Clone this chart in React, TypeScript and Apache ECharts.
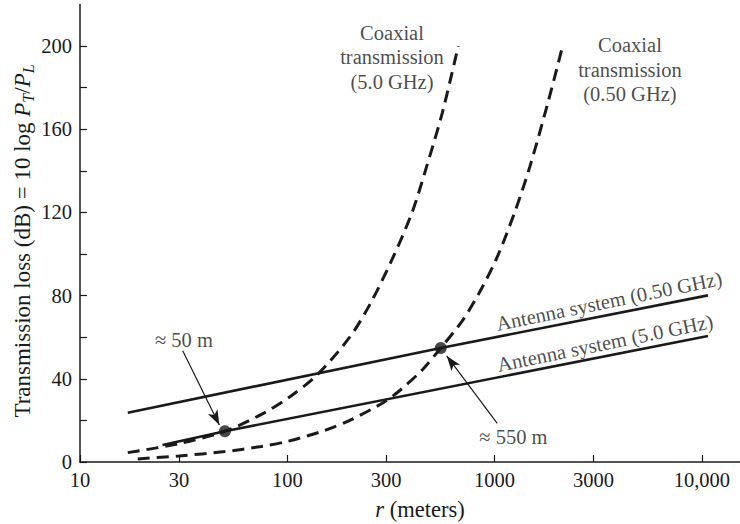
import React, { useEffect, useRef } from 'react';
import * as echarts from 'echarts';

// ---- data (r in meters, loss in dB) ----
const xTickValues = [10, 30, 100, 300, 1000, 3000, 10000];
const xTickLabels = ['10', '30', '100', '300', '1000', '3000', '10,000'];
const yTickValues = [0, 20, 40, 60, 80, 100, 120, 140, 160, 180, 200];
const yLabelValues = [0, 40, 80, 120, 160, 200];

const antenna05R = [17, 550, 10700];
const antenna05L = [23.7, 54.8, 80.1];

const antenna5R = [25, 50, 10700];
const antenna5L = [8.2, 14.8, 60.6];

const coax5R = [17, 30, 50, 77, 103, 139, 200, 251, 319, 400, 470, 560, 668];
const coax5L = [4.5, 8.8, 14.8, 23.5, 31.4, 41.8, 60, 76, 97, 120, 142, 168, 200];

const coax05R = [19, 30, 50, 75, 99, 150, 200, 290, 350, 450, 550, 700, 850, 1024, 1250, 1480, 1800, 2130];
const coax05L = [1.5, 2.9, 5, 7.5, 9.8, 15, 20, 28.5, 34.5, 44.5, 54.8, 68, 82, 98, 120, 142, 172, 200];

const crossR = [50, 550];
const crossL = [14.8, 54.8];

// arrows: [tailR, tailL, tipR, tipL]
const arrows = [
  [31.3, 53.5, 47, 17.8],
  [1030, 18.6, 588, 51],
];

// annotation texts at data positions: [r, L, text, rotation]
const notes: [number, number, string, number][] = [
  [320, 194.5, 'Coaxial\ntransmission\n(5.0 GHz)', 0],
  [4500, 188.5, 'Coaxial\ntransmission\n(0.50 GHz)', 0],
  [3565, 77.4, 'Antenna system (0.50 GHz)', 11.6],
  [3412, 57.2, 'Antenna system (5.0 GHz)', 11.6],
  [31.7, 58.7, '\u2248 50 m', 0],
  [1233, 11.8, '\u2248 550 m', 0],
];

const FONT = '"Liberation Serif", "Times New Roman", serif';
const INK = '#1a1a1a';

const lg = (v: number) => Math.log10(v);
const pts = (rs: number[], ls: number[]) => rs.map((r, i) => [lg(r), ls[i]]);

export default function App() {
  const ref = useRef<HTMLDivElement>(null);
  useEffect(() => {
    if (!ref.current) return;
    const chart = echarts.init(ref.current, null, { renderer: 'svg' });
    const xTicks = xTickValues.map(lg);
    const solid = { color: INK, width: 2.6, type: 'solid' as const };
    const dashed = { color: INK, width: 3, type: [12, 7] as any };
    chart.setOption({
      animation: false,
      backgroundColor: '#ffffff',
      grid: { left: 80, top: 4.4, width: 660, height: 457.6, containLabel: false },
      xAxis: {
        type: 'value',
        min: 1,
        max: 4.184,
        axisLine: { show: true, lineStyle: { color: INK, width: 1.5 } },
        axisTick: { show: true, inside: true, length: 7, customValues: xTicks, lineStyle: { color: INK, width: 1.2 } },
        axisLabel: {
          show: true,
          customValues: xTicks,
          margin: 7,
          color: INK,
          fontFamily: FONT,
          fontSize: 20.5,
          formatter: (v: number) => {
            let best = 0;
            xTicks.forEach((t, i) => {
              if (Math.abs(t - v) < Math.abs(xTicks[best] - v)) best = i;
            });
            return xTickLabels[best];
          },
        },
        splitLine: { show: false },
      },
      yAxis: {
        type: 'value',
        min: 0,
        max: 220,
        axisLine: { show: true, lineStyle: { color: INK, width: 1.5 } },
        axisTick: { show: true, inside: true, length: 7, customValues: yTickValues, lineStyle: { color: INK, width: 1.2 } },
        axisLabel: {
          show: true,
          customValues: yLabelValues,
          margin: 8,
          color: INK,
          fontFamily: FONT,
          fontSize: 20.5,
        },
        splitLine: { show: false },
      },
      graphic: [
        {
          type: 'text',
          x: 22.5,
          y: 241,
          rotation: Math.PI / 2,
          style: {
            text: '{n|Transmission loss (dB) = 10 log }{i|P}{s|T}{n|/}{i|P}{s|L}',
            align: 'center',
            verticalAlign: 'middle',
            fill: INK,
            rich: {
              n: { fontFamily: FONT, fontSize: 23, lineHeight: 28, fill: INK },
              i: { fontFamily: FONT, fontSize: 23, fontStyle: 'italic', lineHeight: 28, fill: INK },
              s: { fontFamily: FONT, fontSize: 16, fontStyle: 'italic', lineHeight: 15, verticalAlign: 'bottom', fill: INK },
            },
          },
        },
        {
          type: 'text',
          x: 420,
          y: 509,
          style: {
            text: '{i|r}{n| (meters)}',
            align: 'center',
            verticalAlign: 'middle',
            fill: INK,
            rich: {
              n: { fontFamily: FONT, fontSize: 22.5, fill: INK },
              i: { fontFamily: FONT, fontSize: 22.5, fontStyle: 'italic', fill: INK },
            },
          },
        },
      ],
      series: [
        { type: 'line', data: pts(antenna05R, antenna05L), showSymbol: false, lineStyle: solid, silent: true },
        { type: 'line', data: pts(antenna5R, antenna5L), showSymbol: false, lineStyle: solid, silent: true },
        { type: 'line', data: pts(coax5R, coax5L), showSymbol: false, smooth: 0.3, lineStyle: dashed, silent: true },
        { type: 'line', data: pts(coax05R, coax05L), showSymbol: false, smooth: 0.3, lineStyle: dashed, silent: true },
        {
          type: 'scatter',
          data: pts(crossR, crossL),
          symbol: 'circle',
          symbolSize: 12,
          itemStyle: { color: INK },
          silent: true,
          markLine: {
            silent: true,
            animation: false,
            symbol: ['none', 'arrow'],
            symbolSize: [0, 14],
            label: { show: false },
            lineStyle: { color: INK, width: 1.2, type: 'solid' },
            data: arrows.map((a) => [
              { coord: [lg(a[0]), a[1]], symbol: 'none' },
              { coord: [lg(a[2]), a[3]], symbol: 'arrow', symbolSize: [8, 15] },
            ]),
          },
        },
        {
          type: 'scatter',
          symbolSize: 0,
          silent: true,
          data: notes.map((n) => ({
            value: [lg(n[0]), n[1]],
            label: {
              show: true,
              position: 'inside',
              formatter: n[2],
              rotate: n[3],
              align: 'center',
              verticalAlign: 'middle',
              fontFamily: FONT,
              fontSize: 20.5,
              lineHeight: 24.5,
              color: INK,
            },
          })),
        },
      ],
    });
    return () => chart.dispose();
  }, []);
  return <div ref={ref} style={{ position: 'absolute', left: 0, top: 0, width: 740, height: 524 }} />;
}
